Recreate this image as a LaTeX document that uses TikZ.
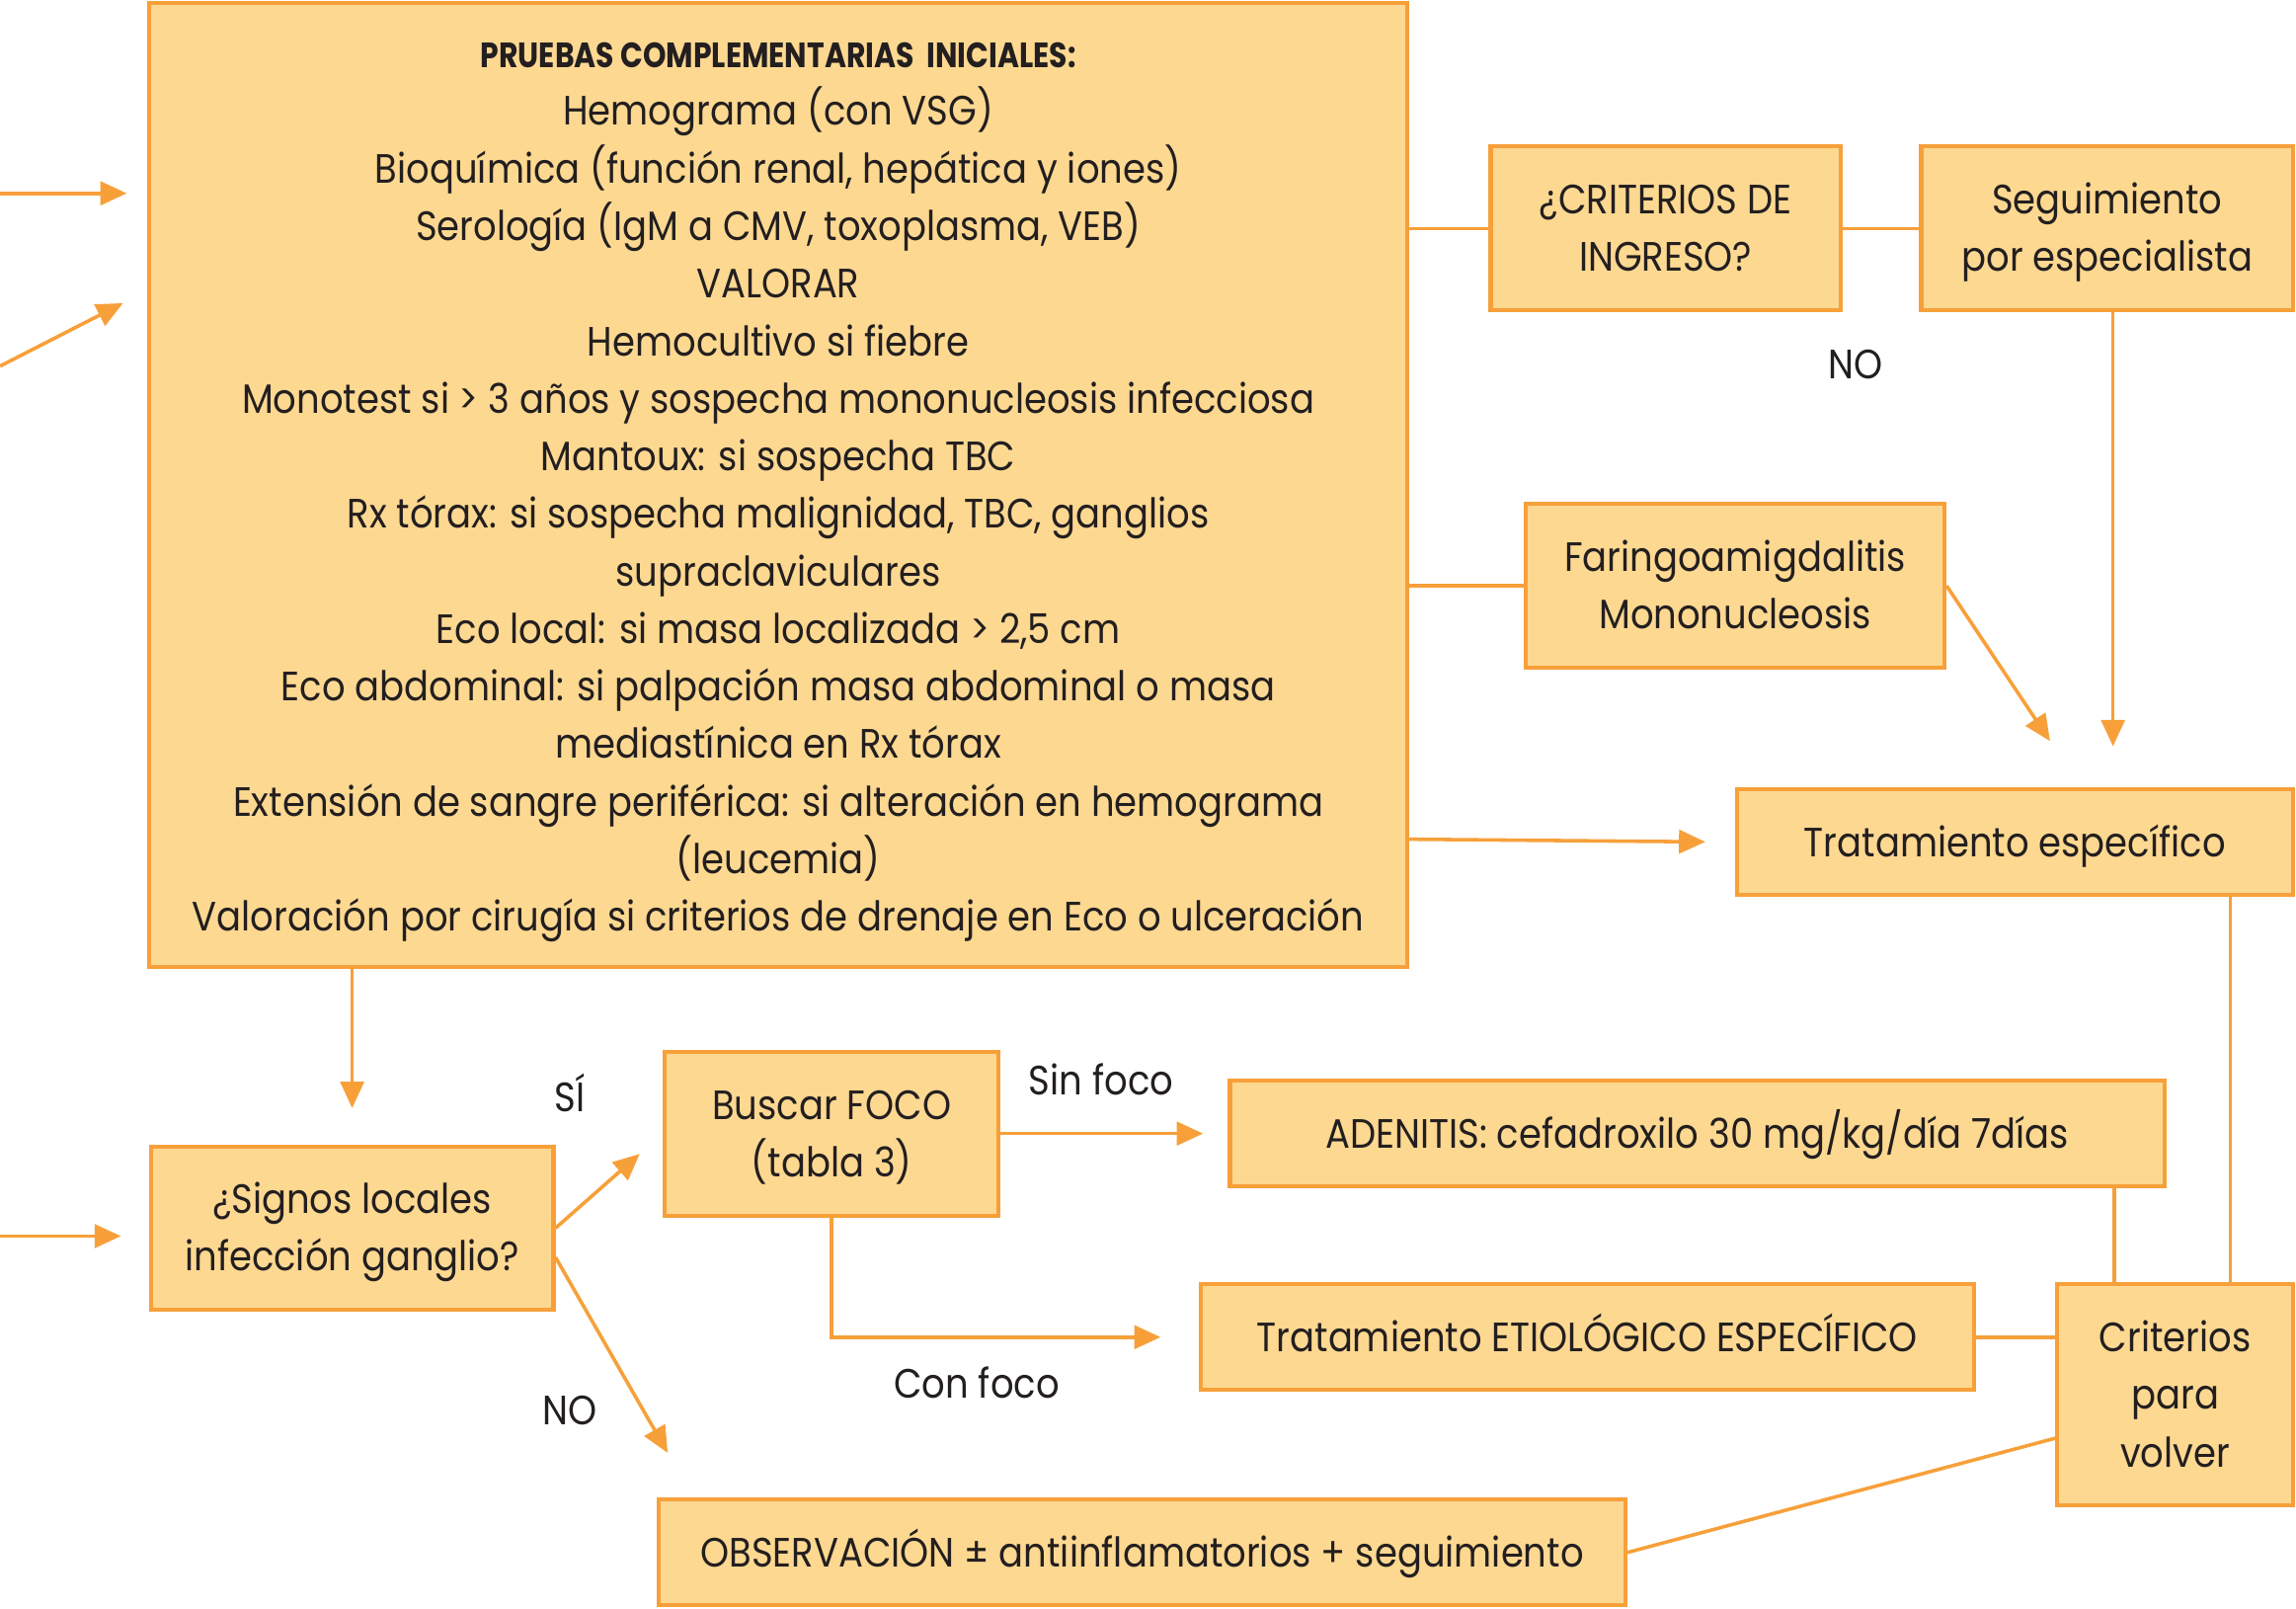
\documentclass[tikz,border=0pt]{standalone}
\usepackage{fontspec}
\setmainfont{Poppins}[FakeStretch=0.89,BoldFeatures={FakeStretch=0.84}]
\usetikzlibrary{arrows.meta}

\definecolor{relleno}{RGB}{253,216,145}
\definecolor{borde}{RGB}{247,160,58}
\definecolor{tinta}{RGB}{35,31,32}

\begin{document}
\begin{tikzpicture}[x=0.5pt,y=-0.5pt,
    caja/.style={draw=borde,fill=relleno,line width=1.4pt,align=center,inner sep=0pt,
      text=tinta,font=\fontsize{14}{19.65}\selectfont,text height=9.8pt,text depth=0pt},
    dos/.style={text height=29.45pt},
    tres/.style={text height=49.1pt},
    rotulo/.style={text=tinta,inner sep=0pt,font=\fontsize{14}{19.65}\selectfont},
    linea/.style={draw=borde,line width=1.2pt},
    flecha/.style={linea,-{Triangle[length=9pt,width=8pt]}}]

  \useasboundingbox (0,0) rectangle (1568,1098);

  \begin{scope}[every node/.style={caja}]
    \node (pruebas)  at (531.5,331)   [minimum width=429.5pt,minimum height=329pt,text height=304.8pt]
      {{\fontsize{12}{19}\selectfont\bfseries PRUEBAS COMPLEMENTARIAS\ \ INICIALES:}\\
       Hemograma (con VSG)\\
       Bioquímica (función renal, hepática y iones)\\
       Serología (IgM a CMV, toxoplasma, VEB)\\
       VALORAR\\
       Hemocultivo si fiebre\\
       Monotest si > 3 años y sospecha mononucleosis infecciosa\\
       Mantoux: si sospecha TBC\\
       Rx tórax: si sospecha malignidad, TBC, ganglios\\
       supraclaviculares\\
       Eco local: si masa localizada > 2,5 cm\\
       Eco abdominal: si palpación masa abdominal o masa\\
       mediastínica en Rx tórax\\
       Extensión de sangre periférica: si alteración en hemograma\\
       (leucemia)\\
       Valoración por cirugía si criterios de drenaje en Eco o ulceración};
    \node (ingreso)  at (1137.5,156)  [minimum width=119.5pt,minimum height=56pt,dos] {¿CRITERIOS DE\\INGRESO?};
    \node (seguim)   at (1439,156)    [minimum width=127pt,minimum height=56pt,dos] {Seguimiento\\por especialista};
    \node (faringo)  at (1185,400)    [minimum width=143pt,minimum height=56pt,dos] {Faringoamigdalitis\\Mononucleosis};
    \node (tratesp)  at (1376,575)    [minimum width=190pt,minimum height=36pt] {Tratamiento específico};
    \node (signos)   at (240.5,838.5) [minimum width=137.5pt,minimum height=55.5pt,dos] {¿Signos locales\\infección ganglio?};
    \node (buscar)   at (568,774)     [minimum width=114pt,minimum height=56pt,dos] {Buscar FOCO\\(tabla 3)};
    \node (adenitis) at (1159,774)    [minimum width=319pt,minimum height=36pt] {ADENITIS: cefadroxilo 30 mg/kg/día 7días};
    \node (etiol)    at (1084,913)    [minimum width=264pt,minimum height=36pt] {Tratamiento ETIOLÓGICO ESPECÍFICO};
    \node (volver)   at (1485.5,952.5) [minimum width=80.5pt,minimum height=75.5pt,tres] {Criterios\\para\\volver};
    \node (observ)   at (780,1060)    [minimum width=330pt,minimum height=36pt] {OBSERVACIÓN ± antiinflamatorios + seguimiento};
  \end{scope}

  \begin{scope}[every node/.style={rotulo}]
    \node (no1)     at (1267,249) {NO};
    \node (si)      at (389,746)  {SÍ};
    \node (no2)     at (389,963)  {NO};
    \node (sinfoco) at (752,737)  {Sin foco};
    \node (confoco) at (667,944)  {Con foco};
  \end{scope}

  % extremos libres
  \coordinate (in1) at (0,132);
  \coordinate (in2) at (0,250);
  \coordinate (in2e) at (84,207);
  \coordinate (in3) at (0,844);
  \coordinate (farend) at (1400,506);
  \coordinate (noend) at (456,992);

  \begin{scope}[every edge/.style={linea}]
    \path (pruebas.east |- ingreso.west) edge (ingreso.west);
    \path (ingreso.east) edge (seguim.west);
    \path (pruebas.east |- faringo.west) edge (faringo.west);
    \path (etiol.east) edge (volver.west |- etiol.east);
    \path ([xshift=-20.75pt]volver.north) edge ([xshift=-20.75pt]volver.north |- adenitis.south);
    \path ([xshift=18.75pt]volver.north) edge ([xshift=18.75pt]volver.north |- tratesp.south);
    \path (observ.east) edge ([yshift=-14.75pt]volver.west);
  \end{scope}

  \begin{scope}[every edge/.style={flecha}]
    \path (in1) edge[shorten >=7pt] (pruebas.west |- in1);
    \path (in2) edge (in2e);
    \path (in3) edge[shorten >=9.5pt] (signos.west |- in3);
    \path (signos.north |- pruebas.south) edge[shorten >=12.5pt] (signos.north);
    \path (signos.east) edge[shorten >=10.5pt] (buscar.west);
    \path ([yshift=-10pt]signos.east) edge (noend);
    \path (buscar.east) edge[shorten >=8.5pt] (adenitis.west);
    \path ([yshift=1pt]pruebas.east |- tratesp.west) edge[shorten >=10pt] (tratesp.west);
    \path (faringo.east) edge (farend);
    \path ([xshift=2pt]seguim.south) edge[shorten >=14pt] ([xshift=2pt]seguim.south |- tratesp.north);
  \end{scope}
  \draw[flecha,shorten >=13pt] (buscar.south) |- (etiol.west);

\end{tikzpicture}
\end{document}
